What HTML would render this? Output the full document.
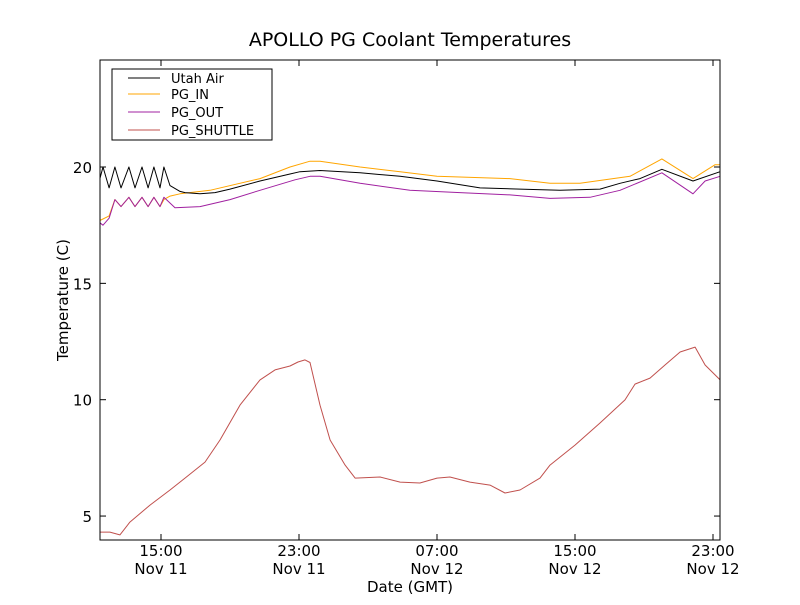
<!DOCTYPE html>
<html><head><meta charset="utf-8"><style>
body{margin:0;background:#fff;}
svg text{font-family:"DejaVu Sans","Liberation Sans",sans-serif;}
</style></head><body>
<svg id="chart" width="800" height="600" xmlns="http://www.w3.org/2000/svg">
<rect width="800" height="600" fill="#fff"/>
<text x="410" y="46" font-size="19" text-anchor="middle">APOLLO PG Coolant Temperatures</text>
<g id="plot"></g>
<text x="410" y="592" font-size="15" text-anchor="middle">Date (GMT)</text>
<text x="68" y="300" font-size="15" text-anchor="middle" transform="rotate(-90 68 300)">Temperature (C)</text>
</svg>
<script>
const yTicks=[5,10,15,20];
const xTicks=[15,23,31,39,47];
const xTickTimes=["15:00","23:00","07:00","15:00","23:00"];
const xTickDates=["Nov 11","Nov 11","Nov 12","Nov 12","Nov 12"];
const airT=[11.46,11.64,11.99,12.33,12.68,13.14,13.49,13.9,14.25,14.59,14.94,15.17,15.52,16.1,16.39,17.26,18.13,19.0,20.74,22.48,23.06,24.22,26.54,28.86,31.0,33.49,35.81,38.13,40.45,41.61,42.77,44.04,45.84,47.41];
const airV=[19.5,20.0,19.1,20.0,19.1,20.0,19.1,20.0,19.1,20.0,19.1,20.0,19.2,18.95,18.9,18.85,18.9,19.05,19.4,19.7,19.8,19.85,19.75,19.6,19.4,19.1,19.05,19.0,19.05,19.3,19.5,19.9,19.4,19.8];
const inT=[11.46,11.99,12.33,12.68,13.14,13.49,13.9,14.25,14.59,14.94,15.17,15.52,16.1,17.84,20.74,22.48,23.64,24.22,26.54,28.86,31.0,35.23,37.55,39.29,42.19,44.04,45.84,47.12,47.41];
const inV=[17.7,17.9,18.6,18.3,18.7,18.3,18.7,18.3,18.7,18.3,18.6,18.75,18.85,19.0,19.5,20.0,20.25,20.25,20.0,19.8,19.6,19.5,19.3,19.3,19.6,20.35,19.5,20.1,20.1];
const outT=[11.46,11.64,11.99,12.33,12.68,13.14,13.49,13.9,14.25,14.59,14.94,15.17,15.81,17.26,19.0,20.74,22.77,23.64,24.22,26.54,29.43,32.33,35.23,37.55,39.87,41.61,44.04,45.84,46.54,47.41];
const outV=[17.6,17.5,17.8,18.6,18.3,18.7,18.3,18.7,18.3,18.7,18.3,18.7,18.25,18.3,18.6,19.0,19.45,19.6,19.6,19.3,19.0,18.9,18.8,18.65,18.7,19.0,19.75,18.85,19.4,19.6];
const shT=[11.46,12.04,12.62,13.2,14.36,15.52,16.39,17.55,18.42,19.58,20.74,21.61,22.48,22.94,23.35,23.64,24.22,24.8,25.67,26.25,27.7,28.86,30.01,31.0,31.75,32.91,34.07,34.94,35.81,36.97,37.55,39.0,40.45,41.9,42.48,43.35,44.22,45.09,45.96,46.54,47.41];
const shV=[4.31,4.31,4.19,4.74,5.47,6.12,6.63,7.32,8.27,9.77,10.85,11.28,11.45,11.62,11.71,11.6,9.77,8.27,7.19,6.63,6.68,6.46,6.42,6.63,6.68,6.46,6.33,5.99,6.12,6.63,7.19,8.05,9.0,9.99,10.67,10.93,11.49,12.05,12.26,11.49,10.85];
const L=100,R=720,T=60,B=540;
const xs=h=>161+(h-15)*17.25;
const ys=t=>167+(20-t)*23.27;
const ns="http://www.w3.org/2000/svg";
const g=document.getElementById('plot');
function mk(tag,attrs){const e=document.createElementNS(ns,tag);for(const k in attrs)e.setAttribute(k,attrs[k]);g.appendChild(e);return e;}
function series(ts,vs,color,name){
  const p=mk('polyline',{points:ts.map((t,i)=>xs(t).toFixed(1)+','+ys(vs[i]).toFixed(1)).join(' '),fill:'none',stroke:color,'stroke-width':1,'stroke-linejoin':'round'});
  
  
}
series(shT,shV,'#c0504d','pg-shuttle-line');
series(inT,inV,'#ffa500','pg-in-line');
series(outT,outV,'#a020a0','pg-out-line');
series(airT,airV,'#000','utah-air-line');
const frame=mk('rect',{x:L,y:T,width:R-L,height:B-T,fill:'none',stroke:'#000','stroke-width':1});


yTicks.forEach(v=>{
  const y=ys(v);
  mk('line',{x1:L,x2:L+6,y1:y,y2:y,stroke:'#000'});
  mk('line',{x1:R-6,x2:R,y1:y,y2:y,stroke:'#000'});
  const t=mk('text',{x:L-8,y:y+6,'font-size':15,'text-anchor':'end'});t.textContent=v;
  
  
});
xTicks.forEach((h,i)=>{
  const x=xs(h);
  mk('line',{x1:x,x2:x,y1:B,y2:B-6,stroke:'#000'});
  mk('line',{x1:x,x2:x,y1:T,y2:T+6,stroke:'#000'});
  const t=mk('text',{x:x,y:B+16,'font-size':15,'text-anchor':'middle'});t.textContent=xTickTimes[i];
  
  
  const d=mk('text',{x:x,y:B+34,'font-size':15,'text-anchor':'middle'});d.textContent=xTickDates[i];
  
  
});
const lg=mk('rect',{x:112,y:69,width:160,height:71,fill:'#fff',stroke:'#000'});


const names=['Utah Air','PG_IN','PG_OUT','PG_SHUTTLE'],cols=['#000','#ffa500','#a020a0','#c0504d'],ly=[78,94,112,130];
names.forEach((n,i)=>{
  mk('line',{x1:128,x2:160,y1:ly[i],y2:ly[i],stroke:cols[i]});
  const t=mk('text',{x:171,y:ly[i]+5,'font-size':13});t.textContent=n;
  
  
});
</script>
</body></html>
